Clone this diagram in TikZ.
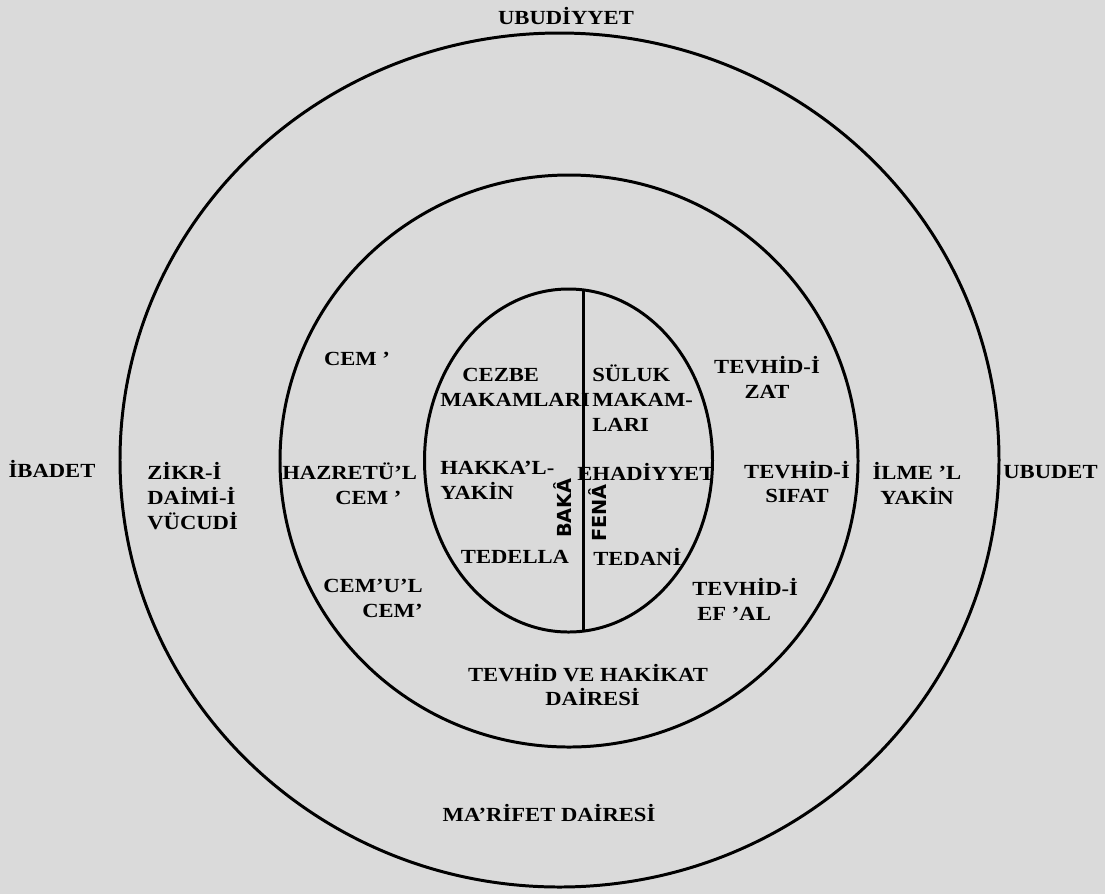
\documentclass[tikz,border=0pt]{standalone}
\usepackage{fontspec}
\newfontfamily\lblfont[FakeStretch=1.13]{Liberation Serif}
\newfontfamily\vertfont{DejaVu Sans}
\definecolor{bgcol}{RGB}{218,218,218}
\begin{document}
\begin{tikzpicture}[x=0.02cm, y=-0.02cm,
  ring/.style={line width=1.7pt, draw=black},
  lbl/.style={font={\lblfont\bfseries\fontsize{11.4}{14.2}\selectfont}, inner sep=0pt, text=black},
  vlbl/.style={font={\vertfont\bfseries\fontsize{11}{13}\selectfont}, inner sep=0pt, rotate=90, text=black}]
\fill[bgcol] (0,0) rectangle (1105,894);
\useasboundingbox (0,0) rectangle (1105,894);
% rings
\draw[ring] (559.5,460) ellipse [x radius=439.5, y radius=427];
\draw[ring] (569,461) ellipse [x radius=289, y radius=286];
\draw[ring] (568.5,460.5) ellipse [x radius=144, y radius=171.5];
\coordinate (ltop) at (583,289.5);
\coordinate (lbot) at (583,631.5);
\draw[ring] (ltop) -- (lbot);
% labels
\node[lbl] (ubudiyyet) at (566,16) {UBUDİYYET};
\node[lbl] (ibadet) at (52,469) {İBADET};
\node[lbl, align=left, anchor=west] (zikr) at (147,496) {ZİKR-İ\\DAİMİ-İ\\VÜCUDİ};
\node[lbl, align=left, anchor=west] (hazret) at (282,484) {HAZRETÜ’L\\\hspace*{1.06cm}CEM ’};
\node[lbl] (cemA) at (357,359) {CEM ’};
\node[lbl, align=left, anchor=west] (cezbe) at (440,387) {\hspace*{0.44cm}CEZBE\\MAKAMLARI};
\node[lbl, align=left, anchor=west] (hakka) at (440,480) {HAKKA’L-\\YAKİN};
\node[lbl] (tedella) at (515,557) {TEDELLA};
\node[lbl, align=right, anchor=east] (cemul) at (423,598) {CEM’U’L\\CEM’};
\node[vlbl] (baka) at (563,508) {BAKÂ};
\node[vlbl] (fena) at (598,513) {FENÂ};
\node[lbl, align=left, anchor=west] (suluk) at (592,398) {SÜLUK\\MAKAM-\\LARI};
\node[lbl, anchor=west] (ehad) at (577,472) {EHADİYYET};
\node[lbl, anchor=west] (tedani) at (593,557) {TEDANİ};
\node[lbl, align=center] (tzat) at (767,377) {TEVHİD-İ\\ZAT};
\node[lbl, align=center] (tsifat) at (797,482) {TEVHİD-İ\\SIFAT};
\node[lbl, align=left, anchor=west] (tefal) at (692,599) {TEVHİD-İ\\\hspace*{0.1cm}EF ’AL};
\node[lbl, align=center] (ilme) at (917,483) {İLME ’L\\YAKİN};
\node[lbl, anchor=west] (ubudet) at (1003,472) {UBUDET};
\node[lbl, align=center] (tvh) at (588,685) {TEVHİD VE HAKİKAT\\\hspace*{0.18cm}DAİRESİ};
\node[lbl] (marifet) at (549,813) {MA’RİFET DAİRESİ};
\end{tikzpicture}
\end{document}
